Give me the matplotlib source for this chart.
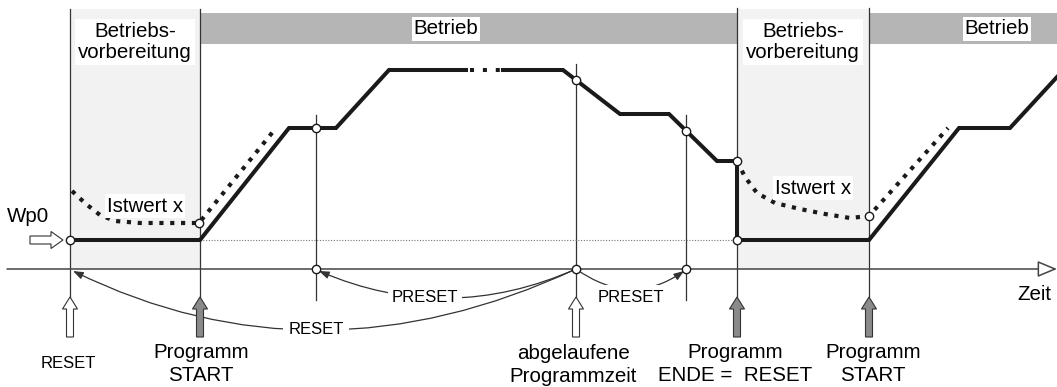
import matplotlib.pyplot as plt
from matplotlib.patches import Rectangle, FancyArrow, FancyArrowPatch
from matplotlib.path import Path

plt.rcParams['font.family'] = ['Liberation Sans', 'DejaVu Sans']

# --- Events along the time axis (pixel layout units) ---
t_reset = 70
t_start = 200
t_preset1 = 316
t_elapsed = 576
t_preset2 = 686
t_end = 737
t_start2 = 869

axis_y = 269
wp0 = 240

# Program set-point profile (first part, a break "· · ·" follows at the top plateau)
soll_a_x = [70, 200, 289, 336, 389, 466]
soll_a_y = [240, 240, 128, 128, 70, 70]
soll_gap_x = [470, 500]
soll_gap_y = [70, 70]
soll_b_x = [503, 563, 620, 669, 717, 737, 737, 869, 959, 1010, 1057]
soll_b_y = [70, 70, 114, 114, 161, 161, 240, 240, 128, 128, 77]

# Actual value x (dotted)
ist_a_x = [72, 86, 100, 115, 140, 199, 276]
ist_a_y = [191, 204, 215, 221, 223, 223, 128]
ist_b_x = [737, 745, 757, 775, 800, 825, 850, 869, 948]
ist_b_y = [161, 177, 193, 203, 209, 214, 218, 216, 128]

# Open circle markers
mark_x = [70, 199, 316, 576, 686, 737, 737, 869, 316, 576, 686]
mark_y = [240, 223, 128, 80, 131, 161, 240, 216, 269, 269, 269]

# Vertical event lines: x, top, bottom
vlines = [(t_reset, 9, 297), (t_start, 9, 297), (t_preset1, 115, 300),
          (t_elapsed, 64, 297), (t_preset2, 115, 300), (t_end, 8, 297),
          (t_start2, 8, 297)]

# Block arrows below the axis: x, filled?
up_arrows = [(t_reset, False), (t_start, True), (t_elapsed, False),
             (t_end, True), (t_start2, True)]

fig = plt.figure(figsize=(10.57, 3.87), dpi=100)
ax = fig.add_axes([0, 0, 1, 1])
ax.set_xlim(0, 1057)
ax.set_ylim(387, 0)
ax.axis('off')

dark = '#1a1a1a'
thin = '#333333'

# preparation phases (light) and operation bands (grey)
for x0, x1 in [(t_reset, t_start), (t_end, t_start2)]:
    ax.add_patch(Rectangle((x0, 9), x1 - x0, axis_y - 9, fc='#f2f2f2', ec='none', zorder=0))
for x0, x1 in [(t_start, t_end), (t_start2, 1057)]:
    ax.add_patch(Rectangle((x0, 13), x1 - x0, 31, fc='#b5b5b5', ec='none', zorder=0))

for x, y0, y1 in vlines:
    ax.plot([x, x], [y0, y1], color=thin, lw=0.9, zorder=1)

# Wp0 reference level
ax.plot([t_start, t_end], [wp0, wp0], color='#777777', lw=0.8, ls=(0, (1, 1.5)), zorder=1)

# time axis with hollow arrowhead
ax.add_patch(FancyArrowPatch((7, axis_y), (1057, axis_y),
                             arrowstyle='-|>,head_length=12,head_width=5',
                             mutation_scale=1, fc='white', ec='#444444', lw=1.1,
                             shrinkA=0, shrinkB=0, zorder=2))

# curves
ax.plot(soll_a_x, soll_a_y, color=dark, lw=2.9, solid_joinstyle='miter', zorder=4)
ax.plot(soll_gap_x, soll_gap_y, color=dark, lw=2.9, ls=(0, (1, 2.2)), zorder=4)
ax.plot(soll_b_x, soll_b_y, color=dark, lw=2.9, solid_joinstyle='miter', zorder=4)
ax.plot(ist_a_x, ist_a_y, color=dark, lw=3, ls=(0, (1, 1.6)), zorder=4)
ax.plot(ist_b_x, ist_b_y, color=dark, lw=3, ls=(0, (1, 1.6)), zorder=4)
ax.plot(mark_x, mark_y, ls='none', marker='o', ms=6, mfc='white', mec=dark, mew=1, zorder=6)

# block arrows
for x, filled in up_arrows:
    ax.add_patch(FancyArrow(x, 337, 0, -40, width=7, head_width=15, head_length=12,
                            length_includes_head=True, fc='#8a8a8a' if filled else 'white',
                            ec='#333333', lw=0.8, zorder=5))
ax.add_patch(FancyArrow(30, wp0, 33, 0, width=8, head_width=17, head_length=12,
                        length_includes_head=True, fc='white', ec='#333333', lw=0.8, zorder=5))


def curve(p0, c, p1, head=True):
    path = Path([p0, c, p1], [Path.MOVETO, Path.CURVE3, Path.CURVE3])
    style = '-|>,head_length=6,head_width=2.2' if head else '-'
    ax.add_patch(FancyArrowPatch(path=path, arrowstyle=style, mutation_scale=1,
                                 color=thin, lw=0.9, zorder=3))


curve((t_elapsed, axis_y), (316, 390), (73, 271))
curve((t_elapsed, axis_y), (447, 326), (319, 271))
curve((t_elapsed, axis_y), (631, 308), (684, 271))

box = dict(fc='white', ec='none', pad=1.5)
small = 12
big = 14.8

ax.text(316, 330, 'RESET', fontsize=small, ha='center', va='center', bbox=dict(fc='white', ec='none', pad=4), zorder=7)
ax.text(425, 297, 'PRESET', fontsize=small, ha='center', va='center', bbox=dict(fc='white', ec='none', pad=3), zorder=7)
ax.text(631, 297, 'PRESET', fontsize=small, ha='center', va='center', bbox=dict(fc='white', ec='none', pad=3), zorder=7)

for x in [135, 803]:
    ax.text(x, 42, 'Betriebs-\nvorbereitung', fontsize=big, ha='center', va='center',
            linespacing=1.12, bbox=dict(fc='white', ec='none', pad=2), zorder=7)
ax.text(446, 29, 'Betrieb', fontsize=big, ha='center', va='center', bbox=box, zorder=7)
ax.text(997, 29, 'Betrieb', fontsize=big, ha='center', va='center', bbox=box, zorder=7)

ax.text(145, 206, 'Istwert x', fontsize=big, ha='center', va='center', bbox=box, zorder=7)
ax.text(813, 188, 'Istwert x', fontsize=big, ha='center', va='center', bbox=box, zorder=7)
ax.text(28, 217, 'Wp0', fontsize=big, ha='center', va='center', zorder=7)
ax.text(1034, 294, 'Zeit', fontsize=big, ha='center', va='center', zorder=7)

ax.text(68, 363, 'RESET', fontsize=small, ha='center', va='center', zorder=7)
two = dict(fontsize=big, ha='center', va='center', linespacing=1.25, zorder=7)
ax.text(201, 364, 'Programm\nSTART', **two)
ax.text(573, 365, 'abgelaufene\nProgrammzeit', **two)
ax.text(735, 364, 'Programm\nENDE =  RESET', **two)
ax.text(873, 364, 'Programm\nSTART', **two)

fig.savefig('out.png', dpi=100)
